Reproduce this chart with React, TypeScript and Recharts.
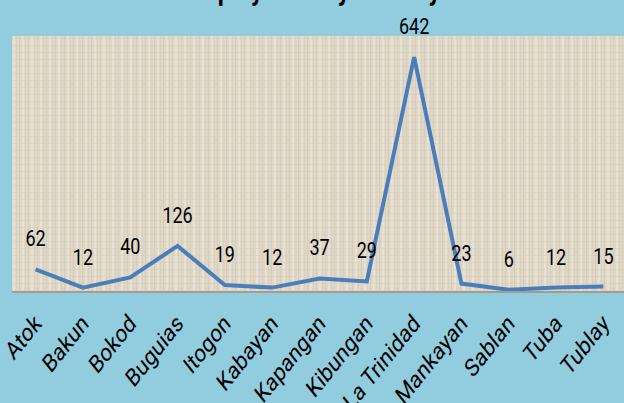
import React from "react";
import { LineChart, Line, XAxis, YAxis, CartesianGrid, LabelList } from "recharts";

const municipalities = [
  "Atok",
  "Bakun",
  "Bokod",
  "Buguias",
  "Itogon",
  "Kabayan",
  "Kapangan",
  "Kibungan",
  "La Trinidad",
  "Mankayan",
  "Sablan",
  "Tuba",
  "Tublay",
];
const counts = [62, 12, 40, 126, 19, 12, 37, 29, 642, 23, 6, 12, 15];
const yDomain = [0, 700];
const title = "Employment by Locality";

const data = municipalities.map((name, i) => ({ name, count: counts[i] }));

const FONT = "Roboto, 'Noto Sans', sans-serif";

// the source picture is stretched vertically, so text gets a y-scale
const XTick = (props: any) => {
  const { x, y, payload } = props;
  return (
    <g transform={`translate(${x + 7},${y + 25}) scale(1,1.25) rotate(-45)`}>
      <text textAnchor="end" fontSize={20} fontFamily={FONT} fill="#000">
        {payload.value}
      </text>
    </g>
  );
};

const ValueLabel = (props: any) => {
  const { x, y, value } = props;
  return (
    <g transform={`translate(${x},${y - 23}) scale(1,1.25)`}>
      <text textAnchor="middle" fontSize={18} fontFamily={FONT} fill="#000">
        {value}
      </text>
    </g>
  );
};

export default function App() {
  return (
    <div
      style={{
        position: "fixed",
        left: 0,
        top: 0,
        width: 624,
        height: 403,
        overflow: "hidden",
        background: "#92CDDF",
      }}
    >
      <svg
        width={624}
        height={20}
        style={{ position: "absolute", left: 0, top: 0 }}
      >
        <g transform="translate(312,0) scale(1,1.25)">
          <text
            textAnchor="middle"
            fontSize={24}
            fontWeight="bold"
            fontFamily={FONT}
            fill="#000"
          >
            {title}
          </text>
        </g>
      </svg>
      <LineChart
        width={640}
        height={403}
        data={data}
        margin={{ top: 36, right: 13, left: 12, bottom: 0 }}
        style={{ position: "absolute", left: 0, top: 0 }}
      >
        <defs>
          <pattern id="linen" width="9" height="7" patternUnits="userSpaceOnUse">
            <rect width="9" height="7" fill="#E0D8C7" />
            <rect x="1" width="1" height="7" fill="#D2C8B4" opacity={0.7} />
            <rect x="4" width="2" height="7" fill="#EAE4D8" opacity={0.8} />
            <rect x="7" width="1" height="7" fill="#D6CDBA" opacity={0.6} />
            <rect y="3" width="9" height="1" fill="#D5CCB9" opacity={0.5} />
          </pattern>
        </defs>
        <CartesianGrid horizontal={false} vertical={false} fill="url(#linen)" />
        <XAxis
          dataKey="name"
          interval={0}
          padding={{ left: 23.6, right: 23.6 }}
          axisLine={{ stroke: "#A39C92", strokeWidth: 2 }}
          tickLine={false}
          height={111}
          tick={<XTick />}
        />
        <YAxis hide domain={yDomain} />
        <Line
          type="linear"
          dataKey="count"
          stroke="#4A7EBB"
          strokeWidth={4}
          dot={false}
          isAnimationActive={false}
        >
          <LabelList dataKey="count" content={<ValueLabel />} />
        </Line>
      </LineChart>
    </div>
  );
}
